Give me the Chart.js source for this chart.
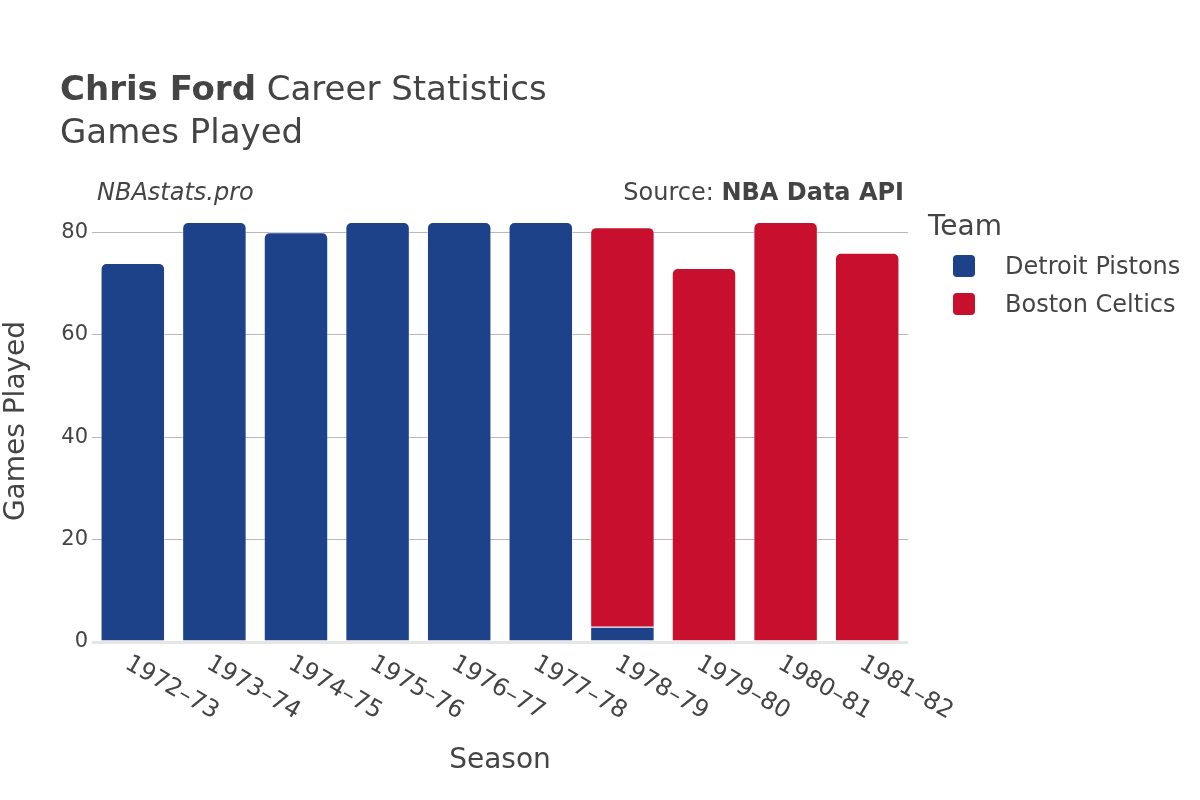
<!DOCTYPE html>
<html>
<head>
<meta charset="utf-8">
<script src="https://cdn.jsdelivr.net/npm/chart.js@4/dist/chart.umd.min.js"></script>
<style>
  body { margin: 0; background: #fff; }
  canvas { display: block; }
</style>
</head>
<body>
<canvas id="chart" width="1200" height="800"></canvas>
<script>
// games played per season, split by team
const seasons = ["1972–73", "1973–74", "1974–75", "1975–76", "1976–77", "1977–78", "1978–79", "1979–80", "1980–81", "1981–82"];
const pistonsGames = [74, 82, 80, 82, 82, 82, 3, null, null, null];
const celticsGames = [null, null, null, null, null, null, 78, 73, 82, 76];
const yTicks = [0, 20, 40, 60, 80];

const teams = ["Detroit Pistons", "Boston Celtics"];
const teamColors = ["#1d428a", "#c8102e"];

const FONT = "'DejaVu Sans', sans-serif";
const TEXT = "#444";

function roundRect(ctx, x, y, w, h, r) {
    ctx.beginPath();
    ctx.moveTo(x + r, y);
    ctx.arcTo(x + w, y, x + w, y + h, r);
    ctx.arcTo(x + w, y + h, x, y + h, r);
    ctx.arcTo(x, y + h, x, y, r);
    ctx.arcTo(x, y, x + w, y, r);
    ctx.closePath();
}

// titles, axis labels and legend drawn by hand to follow the original layout
const decorations = {
    id: 'decorations',
    afterDraw(chart) {
        const ctx = chart.ctx;
        const xs = chart.scales.x;
        const ys = chart.scales.y;
        ctx.save();
        ctx.fillStyle = TEXT;
        ctx.textBaseline = 'alphabetic';

        // title
        ctx.textAlign = 'left';
        ctx.font = "bold 34px " + FONT;
        ctx.fillText("Chris Ford", 60, 100);
        const w = ctx.measureText("Chris Ford").width;
        ctx.font = "34px " + FONT;
        ctx.fillText(" Career Statistics", 60 + w, 100);
        ctx.fillText("Games Played", 60, 143);

        // credits
        ctx.font = "italic 24px " + FONT;
        ctx.fillText("NBAstats.pro", 97, 200);
        ctx.textAlign = 'right';
        ctx.font = "bold 24px " + FONT;
        ctx.fillText("NBA Data API", 904, 200);
        const bw = ctx.measureText("NBA Data API").width;
        ctx.font = "24px " + FONT;
        ctx.fillText("Source: ", 904 - bw, 200);

        // y tick labels
        ctx.textBaseline = 'middle';
        ctx.textAlign = 'right';
        ctx.font = "21px " + FONT;
        yTicks.forEach(v => ctx.fillText(String(v), 88, ys.getPixelForValue(v)));

        // x tick labels, slanted
        ctx.textAlign = 'left';
        ctx.font = "24px " + FONT;
        seasons.forEach((s, i) => {
            const x = xs.getPixelForValue(i);
            ctx.save();
            ctx.translate(x - 6, 662);
            ctx.rotate(Math.PI / 6);
            ctx.fillText(s, 0, 0);
            ctx.restore();
        });

        // axis titles
        ctx.textAlign = 'center';
        ctx.font = "28px " + FONT;
        ctx.fillText("Season", (xs.left + xs.right) / 2, 761);
        ctx.save();
        ctx.translate(17, (ys.top + ys.bottom) / 2);
        ctx.rotate(-Math.PI / 2);
        ctx.fillText("Games Played", 0, 0);
        ctx.restore();

        // legend
        ctx.textAlign = 'left';
        ctx.font = "28px " + FONT;
        ctx.fillText("Team", 928, 228);
        ctx.font = "24px " + FONT;
        teams.forEach((t, i) => {
            const y = 266 + i * 38;
            ctx.fillStyle = teamColors[i];
            roundRect(ctx, 953, y - 11, 22, 22, 4);
            ctx.fill();
            ctx.fillStyle = TEXT;
            ctx.fillText(t, 1005, y + 2);
        });
        ctx.restore();
    }
};

const gp_data = {
    labels: seasons,
    datasets: [{
        label: teams[0],
        data: pistonsGames,
        backgroundColor: teamColors[0],
        borderColor: 'rgba(255,255,255,0.55)',
        borderWidth: 1,
        borderRadius: 6,
        borderSkipped: 'start',
        barPercentage: 0.79,
        categoryPercentage: 1
    }, {
        label: teams[1],
        data: celticsGames,
        backgroundColor: teamColors[1],
        borderColor: 'rgba(255,255,255,0.55)',
        borderWidth: 1,
        borderRadius: 6,
        borderSkipped: 'start',
        barPercentage: 0.79,
        categoryPercentage: 1
    }]
};

const gp_config = {
    type: 'bar',
    data: gp_data,
    options: {
        responsive: false,
        animation: false,
        layout: { padding: { left: 92, right: 292, top: 200, bottom: 150 } },
        plugins: { legend: { display: false }, tooltip: { enabled: false } },
        scales: {
            x: {
                stacked: true,
                grid: { display: false },
                ticks: { display: false },
                border: { display: false }
            },
            y: {
                stacked: true,
                min: 0,
                max: 86.3,
                afterBuildTicks: scale => {
                    scale.ticks = yTicks.map(v => ({ value: v }));
                },
                ticks: { display: false },
                border: { display: false },
                grid: {
                    drawTicks: false,
                    color: c => c.tick.value === 0 ? '#e6e6e6' : '#b8b8b8',
                    lineWidth: c => c.tick.value === 0 ? 3 : 1
                }
            }
        }
    },
    plugins: [decorations]
};

const gp_chart = new Chart(document.getElementById('chart'), gp_config);
</script>
</body>
</html>
